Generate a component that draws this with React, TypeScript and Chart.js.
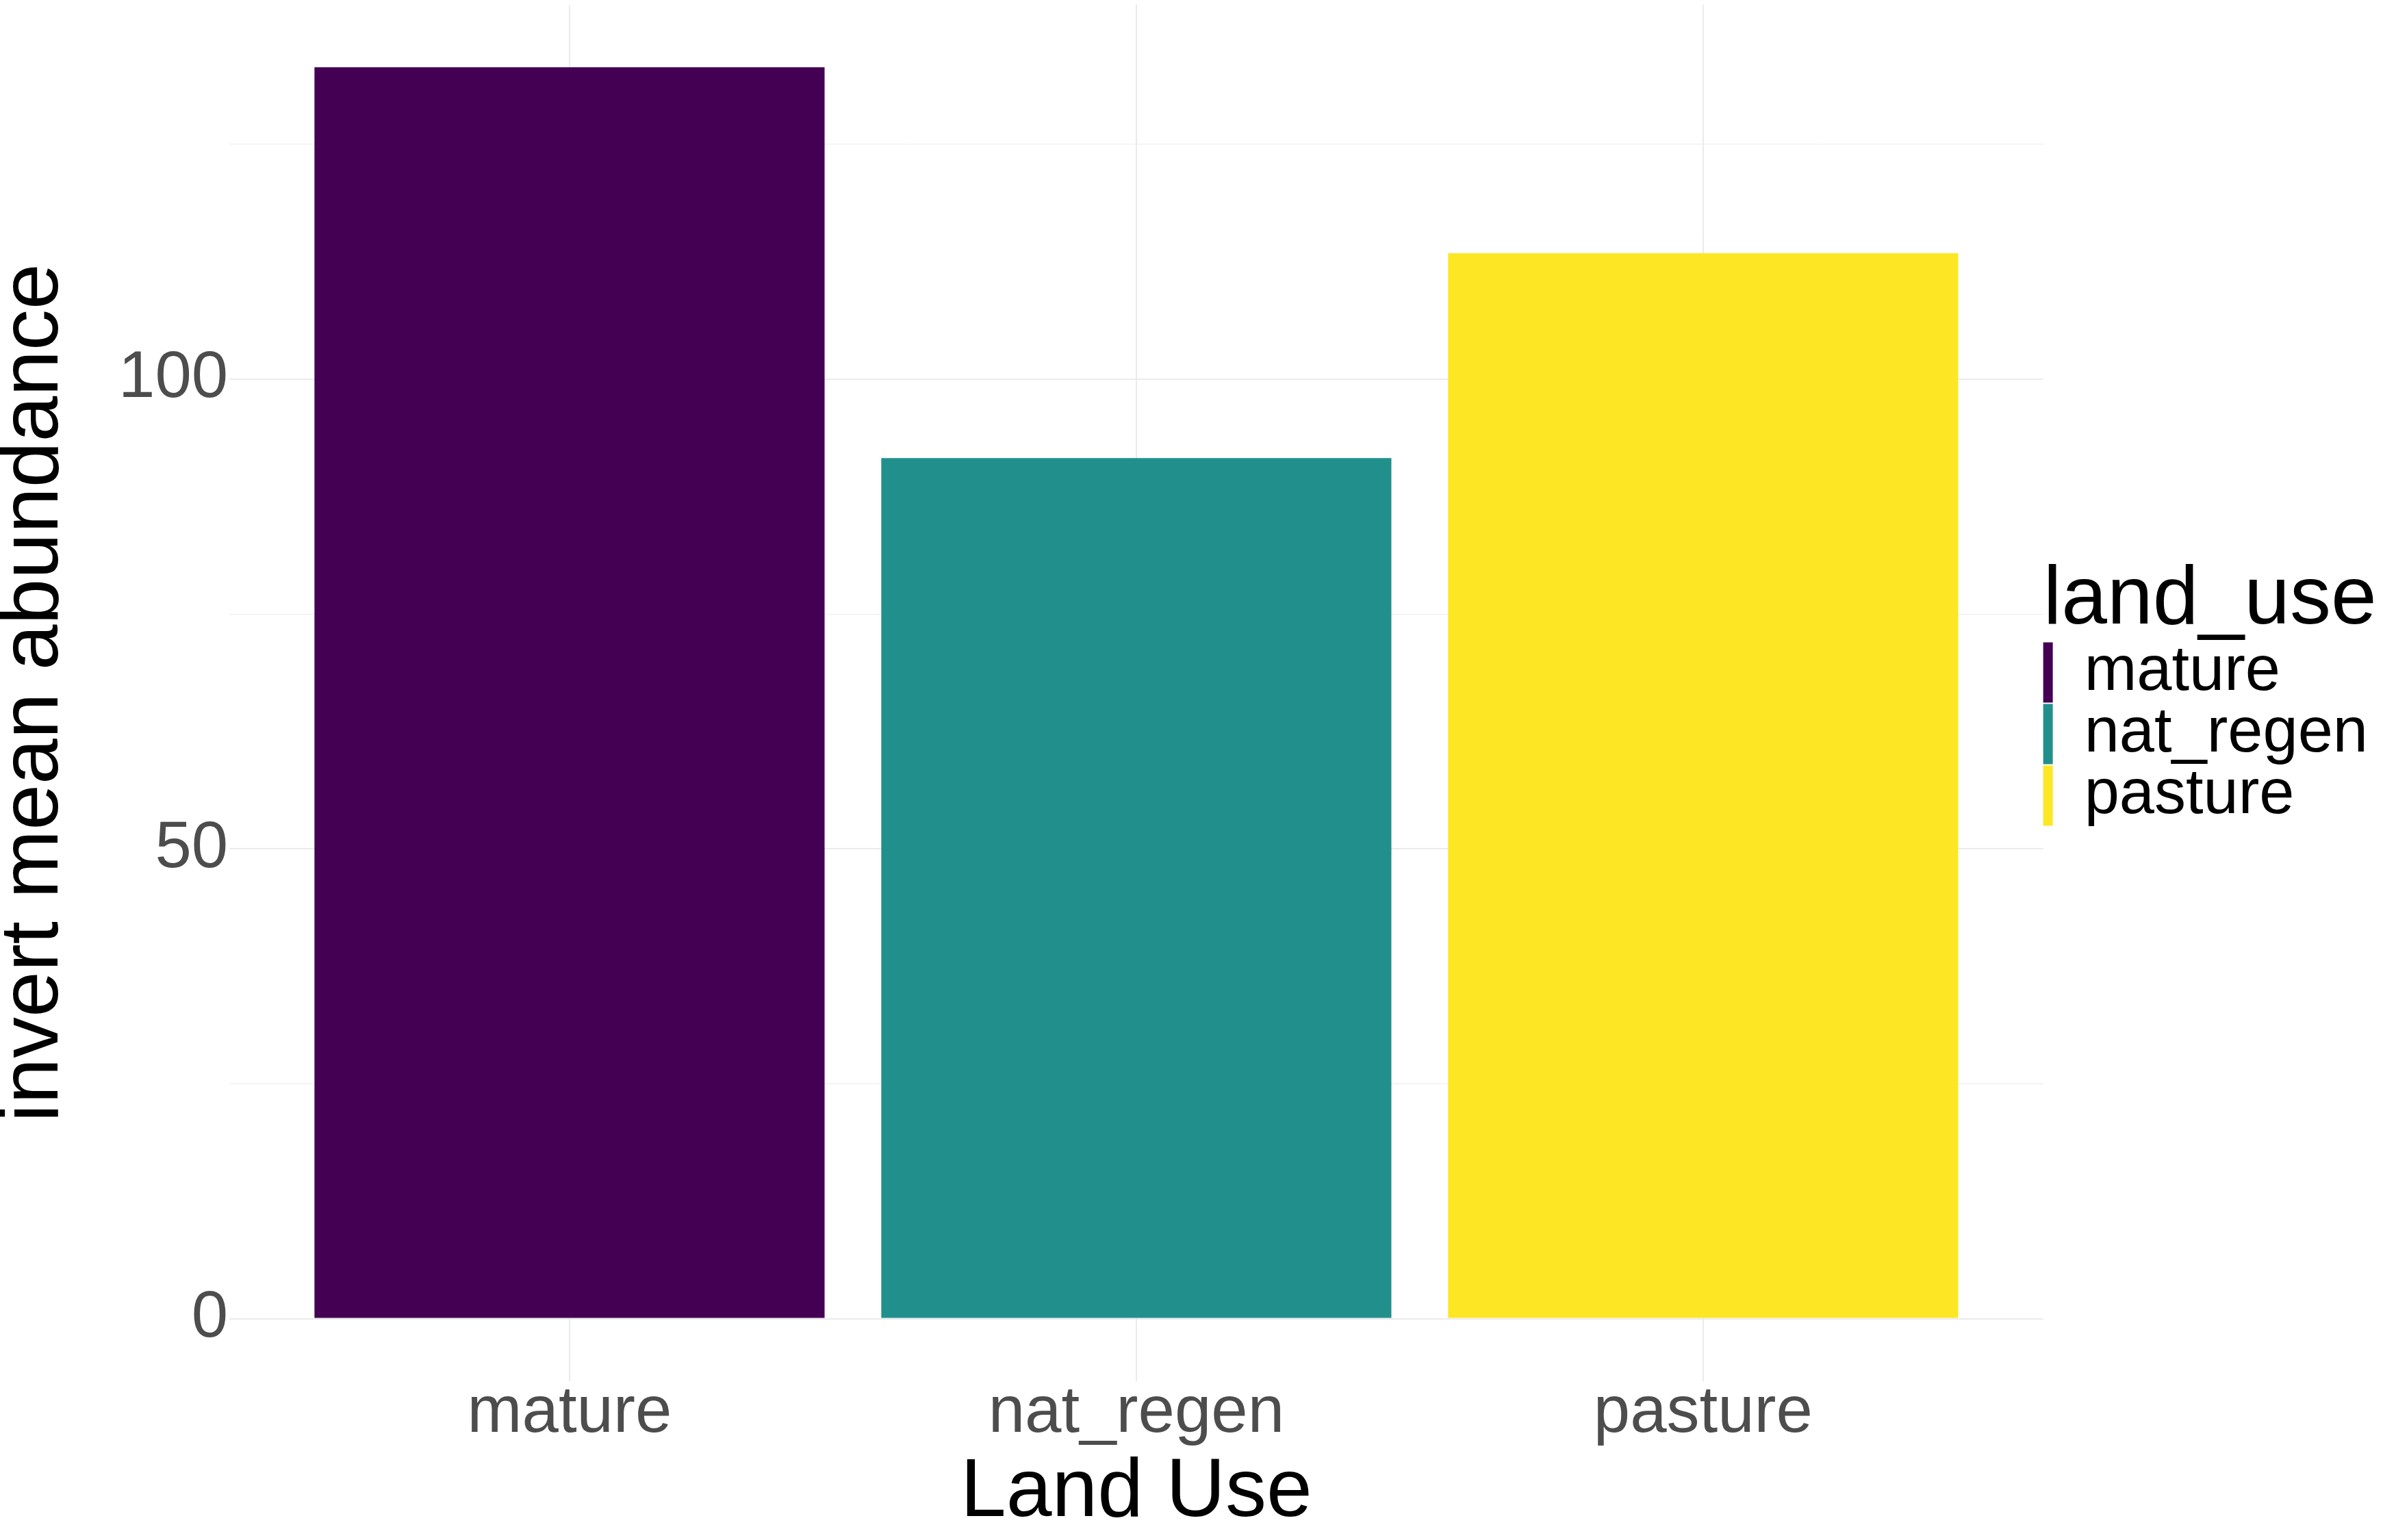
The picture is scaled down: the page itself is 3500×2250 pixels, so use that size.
import React, { useEffect, useRef } from 'react';
import { Chart, ChartConfiguration, registerables } from 'chart.js';

Chart.register(...registerables);

// data
const landUse = ['mature', 'nat_regen', 'pasture'];
const meanAbundance = [133.2, 91.6, 113.4];
const barColours = ['#440154', '#21908C', '#FDE725'];
const yTicks = [0, 25, 50, 75, 100, 125];
const yLabelled = [0, 50, 100];

const FONT = '"Liberation Sans", Arial, sans-serif';

const App: React.FC = () => {
    const canvasRef = useRef<HTMLCanvasElement>(null);
    const chartRef = useRef<Chart>();

    useEffect(() => {
        document.body.style.margin = '0';
        if (!canvasRef.current) return;
        const ctx = canvasRef.current.getContext('2d');
        if (!ctx) return;
        if (chartRef.current) chartRef.current.destroy();

        // ggplot-style expansion: 5% of the range on the y axis, 0.6 category on x
        const top = Math.max(...meanAbundance);
        const yMin = -top * 0.05;
        const yMax = top * 1.05;

        const config: ChartConfiguration = {
            type: 'bar',
            data: {
                datasets: landUse.map((name, i) => ({
                    label: name,
                    data: [{ x: i + 1, y: meanAbundance[i] }],
                    backgroundColor: barColours[i],
                    borderWidth: 0,
                    barPercentage: 0.9,
                    categoryPercentage: 1,
                    grouped: false,
                })),
            },
            options: {
                animation: false,
                responsive: true,
                maintainAspectRatio: false,
                devicePixelRatio: 1,
                layout: { padding: { top: -3, right: 31, left: 0, bottom: 0 } },
                scales: {
                    x: {
                        type: 'linear',
                        min: 0.4,
                        max: landUse.length + 0.6,
                        offset: false,
                        afterBuildTicks: (scale) => {
                            scale.ticks = landUse.map((_, i) => ({ value: i + 1 }));
                        },
                        ticks: {
                            callback: (v) => landUse[Number(v) - 1] ?? '',
                            font: { family: FONT, size: 96, lineHeight: 1 },
                            color: '#4D4D4D',
                            padding: 0,
                            maxRotation: 0,
                            autoSkip: false,
                        },
                        grid: { color: '#EBEBEB', lineWidth: 2, drawTicks: false, offset: false },
                        border: { display: false },
                        title: {
                            display: true,
                            text: 'Land Use',
                            color: '#000000',
                            font: { family: FONT, size: 120 },
                            padding: { top: -4, bottom: -4 },
                        },
                    },
                    y: {
                        type: 'linear',
                        min: yMin,
                        max: yMax,
                        afterBuildTicks: (scale) => {
                            scale.ticks = yTicks.map((v) => ({ value: v }));
                        },
                        ticks: {
                            callback: (v) => (yLabelled.includes(Number(v)) ? String(v) : ''),
                            // tiny line height so the axis does not reserve room above the top tick
                            font: { family: FONT, size: 96, lineHeight: 0.1 },
                            color: '#4D4D4D',
                            padding: 2,
                        },
                        grid: {
                            color: '#EBEBEB',
                            lineWidth: (c) => (yLabelled.includes(c.tick?.value) ? 2 : 1),
                            drawTicks: false,
                        },
                        border: { display: false },
                        title: {
                            display: true,
                            text: 'invert mean abundance',
                            color: '#000000',
                            font: { family: FONT, size: 120, lineHeight: 0.85 },
                            padding: { top: 0, bottom: 69 },
                        },
                    },
                },
                plugins: {
                    tooltip: { enabled: false },
                    legend: {
                        position: 'right',
                        align: 'center',
                        fullSize: false,
                        labels: {
                            boxWidth: 16,
                            boxHeight: 88,
                            padding: -2,
                            color: '#000000',
                            font: { family: FONT, size: 92 },
                        },
                        title: {
                            display: true,
                            text: 'land_use',
                            position: 'start',
                            color: '#000000',
                            font: { family: FONT, size: 120, lineHeight: 1 },
                            padding: 0,
                        },
                    },
                },
            },
        };

        chartRef.current = new Chart(ctx, config);

        return () => {
            if (chartRef.current) {
                chartRef.current.destroy();
                chartRef.current = undefined;
            }
        };
    }, []);

    return (
        <div style={{ position: 'relative', width: '3500px', height: '2250px' }}>
            <canvas ref={canvasRef} />
        </div>
    );
};

export default App;
